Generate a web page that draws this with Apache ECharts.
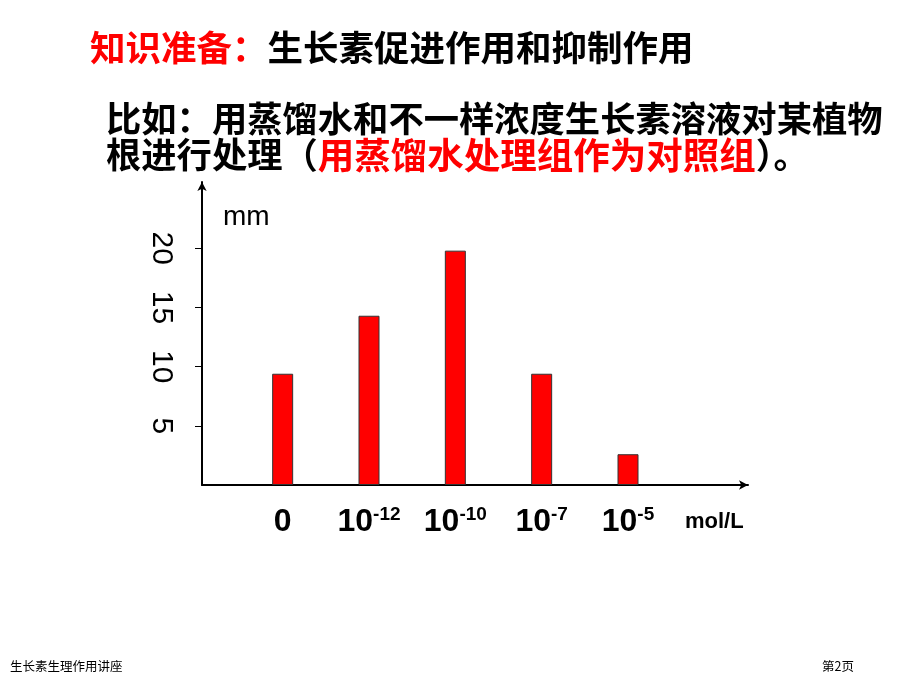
<!DOCTYPE html>
<html>
<head>
<meta charset="utf-8">
<script src="https://cdn.jsdelivr.net/npm/echarts@6/dist/echarts.min.js"></script>
<style>
html,body{margin:0;padding:0;background:#fff;}
#c{width:920px;height:690px;}
</style>
</head>
<body>
<div id="c"></div>
<script>
// ---- data ----
const concentrations = ['0', '10^-12', '10^-10', '10^-7', '10^-5'];
const unitX = 'mol/L';
const unitY = 'mm';
const rootLength = [9.4, 14.3, 19.8, 9.4, 2.6];
const yTicks = [5, 10, 15, 20];
const titleRed = '知识准备：';
const titleBlack = '生长素促进作用和抑制作用';
const line2 = '比如：用蒸馏水和不一样浓度生长素溶液对某植物';
const line3a = '根进行处理（';
const line3b = '用蒸馏水处理组作为对照组';
const line3c = '）。';
const footerLeft = '生长素生理作用讲座';
const footerRight = '第2页';

const xCats = concentrations.concat([unitX]);
const barData = rootLength.concat(['-']);
const YMAX = 25.6;
const cjk = '"Noto Sans CJK SC", sans-serif';
const lat = '"Liberation Sans", Arial, sans-serif';

const chart = echarts.init(document.getElementById('c'));
chart.setOption({
  animation: false,
  backgroundColor: '#fff',
  grid: [
    {left: 202, top: 182, width: 546, height: 303},
    {left: 239.5, top: 182, width: 518, height: 303}
  ],
  xAxis: [
    {
      gridIndex: 0, type: 'value', min: 0, max: 1,
      axisLine: {show: true, lineStyle: {color: '#000', width: 2}, symbol: ['none', 'arrow'], symbolSize: [7, 9]},
      axisTick: {show: false}, axisLabel: {show: false}, splitLine: {show: false}
    },
    {
      gridIndex: 1, type: 'category', data: xCats,
      axisLine: {show: false}, axisTick: {show: false},
      axisLabel: {
        margin: 20,
        interval: 0,
        formatter: function (v) {
          if (v === unitX) return '{u|' + v + '}';
          const p = v.split('^');
          if (p.length === 2) return '{b|' + p[0] + '}{s|' + p[1] + '}';
          return '{b|' + v + '}';
        },
        rich: {
          b: {fontFamily: lat, fontWeight: 'bold', fontSize: 32, color: '#000', lineHeight: 34},
          s: {fontFamily: lat, fontWeight: 'bold', fontSize: 19, color: '#000', verticalAlign: 'top', lineHeight: 20},
          u: {fontFamily: lat, fontWeight: 'bold', fontSize: 22, color: '#000', lineHeight: 34}
        }
      }
    }
  ],
  yAxis: [
    {
      gridIndex: 0, type: 'value', min: 0, max: YMAX,
      axisLine: {show: true, lineStyle: {color: '#000', width: 2}, symbol: ['none', 'arrow'], symbolSize: [7, 9]},
      axisTick: {show: true, length: 7, customValues: yTicks, lineStyle: {color: '#000', width: 1}},
      axisLabel: {customValues: yTicks, rotate: -90, fontFamily: lat, fontSize: 30, color: '#000', margin: 26},
      splitLine: {show: false},
      name: unitY, nameLocation: 'end', nameGap: -35,
      nameTextStyle: {fontFamily: lat, fontSize: 28, color: '#000', align: 'left', verticalAlign: 'middle', padding: [0, 0, 0, 21]}
    },
    {gridIndex: 1, type: 'value', min: 0, max: YMAX, show: false, splitLine: {show: false}}
  ],
  series: [{
    type: 'bar', xAxisIndex: 1, yAxisIndex: 1, data: barData, barWidth: 21,
    itemStyle: {color: '#ff0000', borderColor: '#333', borderWidth: 1}
  }],
  graphic: [
    {type: 'text', x: 90, y: 48, style: {
      text: '{r|' + titleRed + '}{k|' + titleBlack + '}', verticalAlign: 'middle',
      rich: {
        r: {fill: '#ff0000', fontFamily: cjk, fontWeight: 'bold', fontSize: 35.5},
        k: {fill: '#000', fontFamily: cjk, fontWeight: 'bold', fontSize: 35.5}
      }
    }},
    {type: 'text', x: 106, y: 119, style: {
      text: line2, verticalAlign: 'middle', fill: '#000', fontFamily: cjk, fontWeight: 'bold', fontSize: 35.3
    }},
    {type: 'text', x: 106, y: 155, style: {
      text: '{k|' + line3a + '}{r|' + line3b + '}{k|' + line3c + '}', verticalAlign: 'middle',
      rich: {
        r: {fill: '#ff0000', fontFamily: cjk, fontWeight: 'bold', fontSize: 36.5},
        k: {fill: '#000', fontFamily: cjk, fontWeight: 'bold', fontSize: 35.3}
      }
    }},
    {type: 'text', x: 10, y: 666, style: {text: footerLeft, verticalAlign: 'middle', fill: '#000', fontFamily: cjk, fontSize: 12.5}},
    {type: 'text', x: 822, y: 666, style: {text: footerRight, verticalAlign: 'middle', fill: '#000', fontFamily: cjk, fontSize: 12.5}}
  ]
});
</script>
</body>
</html>
